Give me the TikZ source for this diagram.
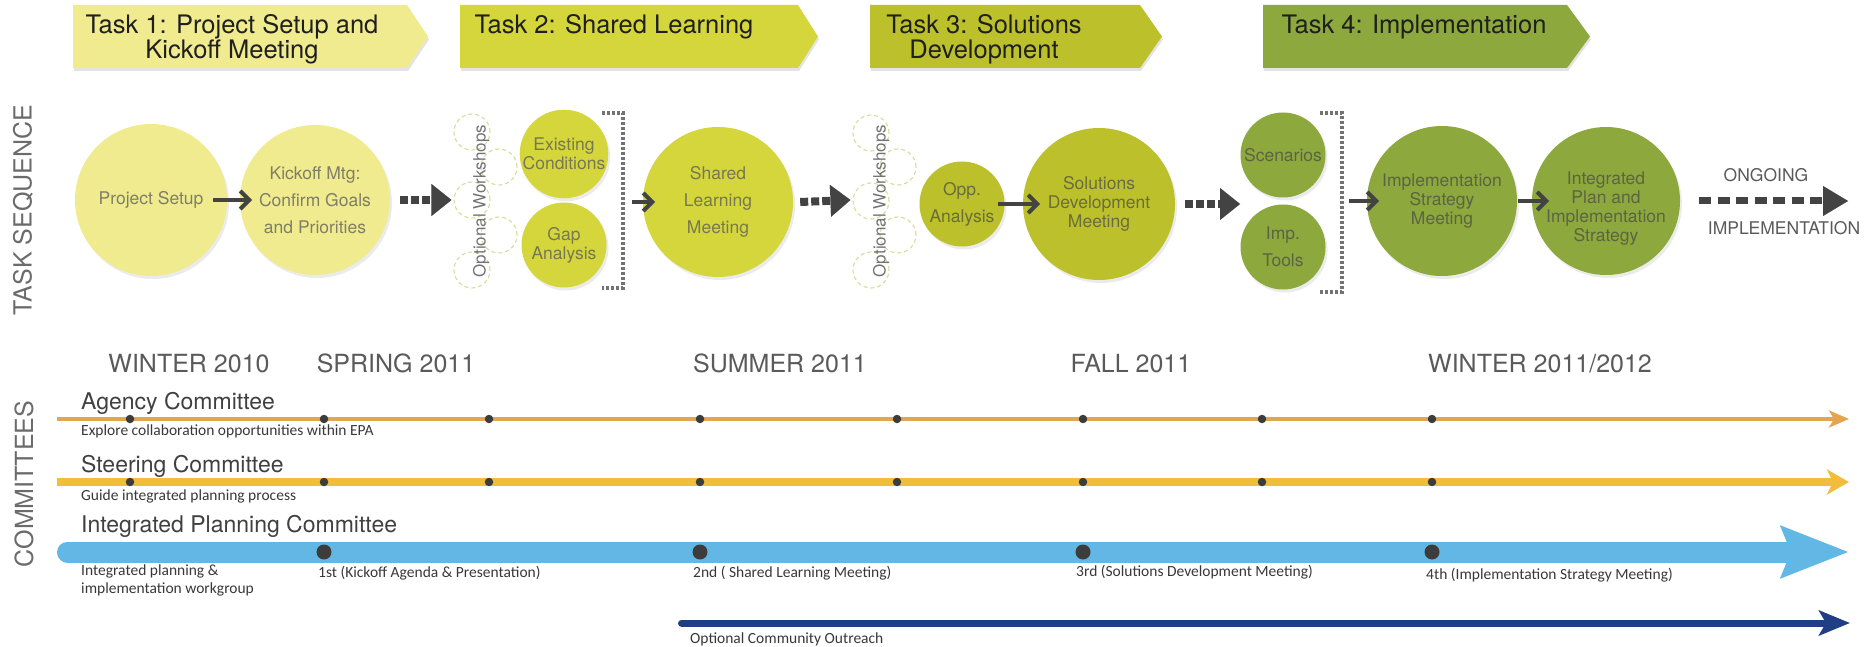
\documentclass[tikz,border=0pt]{standalone}
\usepackage{fontspec}
\setmainfont{TeX Gyre Heros}
\newfontfamily\smallfont{Carlito}
\usetikzlibrary{arrows.meta,shadows}
\definecolor{tone}{HTML}{F0EB8E}
\definecolor{ttwo}{HTML}{D4D63C}
\definecolor{tthree}{HTML}{BCC12B}
\definecolor{tfour}{HTML}{8DA83C}
\definecolor{arrowgray}{HTML}{434343}
\definecolor{labelgray}{HTML}{5A5A5A}
\definecolor{agencycol}{HTML}{E3A64F}
\definecolor{steercol}{HTML}{F2BD3D}
\definecolor{ipccol}{HTML}{63B7E4}
\definecolor{outreachcol}{HTML}{1F3E86}
\definecolor{wscol}{HTML}{D6DC9A}
\definecolor{dotcol}{HTML}{3C3C3C}
\tikzset{
  banner/.style={fill=#1, drop shadow={opacity=0.22, shadow xshift=1pt, shadow yshift=-3pt}},
  bantext/.style={font=\fontsize{25.5}{25}\selectfont, text=black!88, align=center, inner sep=0pt},
  bubble/.style={circle, fill=#1, inner sep=0pt, align=center, text=black!65!white!75!#1,
     font=\fontsize{17.5}{27}\selectfont, drop shadow={opacity=0.16, shadow xshift=2pt, shadow yshift=-3pt}},
  darkbubble/.style={bubble=#1, text=black!72!white!70!#1},
  tightlines/.style={font=\fontsize{17.5}{19}\selectfont},
  wscircle/.style={circle, draw=wscol, line width=1.1pt, minimum size=36pt, inner sep=0pt, dash pattern=on 4pt off 3pt},
  wstext/.style={rotate=90, font=\fontsize{17}{17}\selectfont, text=black!55, inner sep=0pt},
  link/.style={draw=arrowgray, line width=4pt, -{Straight Barb[length=9pt,width=18pt]}},
  dotlink/.style={draw=arrowgray, line width=8pt, dash pattern=on 8pt off 3pt, -{Triangle[length=20pt,width=32pt,line width=0.01pt]}},
  ongoinglink/.style={draw=arrowgray, line width=7pt, dash pattern=on 12pt off 6.5pt, -{Triangle[length=25pt,width=30pt,line width=0.01pt]}},
  bracketline/.style={draw=black!55, line width=3.2pt, dash pattern=on 3pt off 2pt},
  sidelabel/.style={rotate=90, font=\fontsize{25}{25}\selectfont, text=black!58, inner sep=0pt},
  season/.style={font=\fontsize{25}{25}\selectfont, text=labelgray, inner sep=0pt, anchor=base},
  committee/.style={font=\fontsize{23}{23}\selectfont, text=black!75, inner sep=0pt, anchor=base west},
  note/.style={font=\smallfont\fontsize{15.5}{17}\selectfont, text=black!78, inner sep=0pt, anchor=base west, align=left},
  tdot/.style={circle, fill=dotcol, inner sep=0pt, minimum size=8.5pt},
  bdot/.style={circle, fill=dotcol, inner sep=0pt, minimum size=15pt},
  ongoingtext/.style={font=\fontsize{17.5}{17.5}\selectfont, text=labelgray, inner sep=0pt}
}
\begin{document}
\begin{tikzpicture}[x=1pt,y=-1pt]
\useasboundingbox (0,0) rectangle (1866,647);
% ---------- banners ----------
\path[banner=tone]   (73,5) -- (407,5) -- (428,36.5) -- (407,68) -- (73,68) -- cycle;
\path[banner=ttwo]   (460,5) -- (798,5) -- (818,36.5) -- (798,68) -- (460,68) -- cycle;
\path[banner=tthree] (870,5) -- (1140,5) -- (1162,36.5) -- (1140,68) -- (870,68) -- cycle;
\path[banner=tfour]  (1263,5) -- (1567,5) -- (1590,36.5) -- (1567,68) -- (1263,68) -- cycle;
\node[bantext] (task1) at (232,39) {Task 1: Project Setup and\\Kickoff Meeting};
\node[bantext] (task2) at (614,26.5) {Task 2: Shared Learning};
\node[bantext] (task3) at (984,39) {Task 3: Solutions\\Development};
\node[bantext] (task4) at (1414,26.5) {Task 4: Implementation};
% ---------- side labels ----------
\node[sidelabel] (tseq) at (23,210) {TASK SEQUENCE};
\node[sidelabel] (comm) at (24,484) {COMMITTEES};
% ---------- task 1 ----------
\node[bubble=tone, minimum size=152pt] (ps) at (151,200) {Project Setup};
\node[bubble=tone, minimum size=150pt] (kick) at (315,200) {Kickoff Mtg:\\Confirm Goals\\and Priorities};
\draw[link] ([xshift=62pt]ps.center) -- ([xshift=-63pt]kick.center);
% ---------- workshops 1 ----------
\node[wscircle] (wa1) at (472,132) {};
\node[wscircle] (wa2) at (499,167) {};
\node[wscircle] (wa3) at (472,200) {};
\node[wscircle] (wa4) at (499,235) {};
\node[wscircle] (wa5) at (472,270) {};
\node[wstext] (wat) at (481,201) {Optional Workshops};
\draw[dotlink] ([xshift=10pt]kick.east) -- ([xshift=-2pt]wa3.west);
% ---------- task 2 ----------
\node[bubble=ttwo, minimum size=85pt, tightlines] (exc) at (564,154) {Existing\\Conditions};
\node[bubble=ttwo, minimum size=85pt, tightlines] (gap) at (564,245) {Gap\\Analysis};
\coordinate (b1a) at (602,113); \coordinate (b1b) at (623,113);
\coordinate (b1c) at (623,288); \coordinate (b1d) at (602,288);
\draw[bracketline] (b1a) -- (b1b) -- (b1c) -- (b1d);
\coordinate (b1out) at (632,202);
\node[bubble=ttwo, minimum size=150pt] (shl) at (718,202) {Shared\\Learning\\Meeting};
\draw[link] (b1out) -- ([xshift=-63pt]shl.center);
% ---------- workshops 2 ----------
\node[wscircle] (wb1) at (871,133) {};
\node[wscircle] (wb2) at (898,167) {};
\node[wscircle] (wb3) at (871,201) {};
\node[wscircle] (wb4) at (898,235) {};
\node[wscircle] (wb5) at (871,270) {};
\node[wstext] (wbt) at (881,201) {Optional Workshops};
\draw[dotlink] ([xshift=7pt]shl.east) -- ([xshift=-2pt,yshift=1pt]wb3.west);
% ---------- task 3 ----------
\node[darkbubble=tthree, minimum size=85pt] (opp) at (962,204) {Opp.\\Analysis};
\node[darkbubble=tthree, minimum size=152pt, tightlines] (sdm) at (1099,204) {Solutions\\Development\\Meeting};
\draw[link] ([xshift=36pt]opp.center) -- ([xshift=-59pt]sdm.center);
\coordinate (d3end) at (1240,204);
\draw[dotlink] ([xshift=10pt]sdm.east) -- (d3end);
% ---------- task 4 ----------
\node[darkbubble=tfour, minimum size=85pt] (scen) at (1283,155) {Scenarios};
\node[darkbubble=tfour, minimum size=85pt] (imp) at (1283,247) {Imp.\\Tools};
\coordinate (b2a) at (1320,113); \coordinate (b2b) at (1342,113);
\coordinate (b2c) at (1342,292); \coordinate (b2d) at (1320,292);
\draw[bracketline] (b2a) -- (b2b) -- (b2c) -- (b2d);
\coordinate (b2out) at (1349,201);
\node[darkbubble=tfour, minimum size=150pt, tightlines] (impl) at (1442,201) {Implementation\\Strategy\\Meeting};
\draw[link] (b2out) -- ([xshift=-63pt]impl.center);
\node[darkbubble=tfour, minimum size=148pt] (integ) at (1606,201) {};
\node[tightlines, text=black!72!white!70!tfour, align=center, inner sep=0pt] (integt) at (1606,209) {Integrated\\Plan and\\Implementation\\Strategy};
\draw[link] ([xshift=76pt]impl.center) -- ([xshift=-57pt]integ.center);
% ---------- ongoing ----------
\coordinate (ongend) at (1848,201);
\draw[ongoinglink] ([xshift=19pt]integ.east) -- (ongend);
\node[ongoingtext] (ongo) at (1766,175) {ONGOING};
\node[ongoingtext] (impltxt) at (1784,228) {IMPLEMENTATION};
% ---------- seasons ----------
\node[season] (s1) at (189,372) {WINTER 2010};
\node[season] (s2) at (396,372) {SPRING 2011};
\node[season] (s3) at (780,372) {SUMMER 2011};
\node[season] (s4) at (1131,372) {FALL 2011};
\node[season] (s5) at (1540,372) {WINTER 2011/2012};
% ---------- committee lines ----------
\coordinate (agS) at (57,419);  \coordinate (agE) at (1849,419);
\coordinate (stS) at (57,482);  \coordinate (stE) at (1849,482);
\coordinate (ipS) at (67.5,552); \coordinate (ipE) at (1849,552);
\coordinate (coS) at (681.5,623); \coordinate (coE) at (1850,623);
\draw[draw=agencycol, line width=4.5pt, -{Stealth[length=20pt,width=17pt,inset=5pt]}] (agS) -- (agE);
\draw[draw=steercol, line width=7.5pt, -{Stealth[length=22pt,width=25pt,inset=6pt]}] (stS) -- (stE);
\draw[draw=ipccol, line width=21pt, line cap=round, -{Stealth[length=67pt,width=50pt,inset=9pt,line cap=butt]}] (ipS) -- (ipE);
\draw[draw=outreachcol, line width=7pt, line cap=round, -{Stealth[length=31pt,width=25pt,inset=7pt,line cap=butt]}] (coS) -- (coE);
\foreach \i/\x in {1/130,2/324,3/489,4/700,5/897,6/1083,7/1262,8/1432}{
  \node[tdot] (ag\i) at (\x,419) {};
  \node[tdot] (st\i) at (\x,482) {};
}
\foreach \i/\x in {1/324,2/700,3/1083,4/1432}{
  \node[bdot] (ip\i) at (\x,552) {};
}
% ---------- committee labels ----------
\node[committee] (agl) at (81,409) {Agency Committee};
\node[note] (agn) at (81,435) {Explore collaboration opportunities within EPA};
\node[committee] (stl) at (81,472) {Steering Committee};
\node[note] (stn) at (81,500) {Guide integrated planning process};
\node[committee] (ipl) at (81,532) {Integrated Planning Committee};
\node[note] (ipn1) at (81,575) {Integrated planning \&};
\node[note] (ipn2) at (81,593) {implementation workgroup};
\node[note] (m1) at (318,577) {1st (Kickoff Agenda \& Presentation)};
\node[note] (m2) at (693,577) {2nd ( Shared Learning Meeting)};
\node[note] (m3) at (1076,576) {3rd (Solutions Development Meeting)};
\node[note] (m4) at (1426,579) {4th (Implementation Strategy Meeting)};
\node[note] (con) at (690,643) {Optional Community Outreach};
\end{tikzpicture}
\end{document}
